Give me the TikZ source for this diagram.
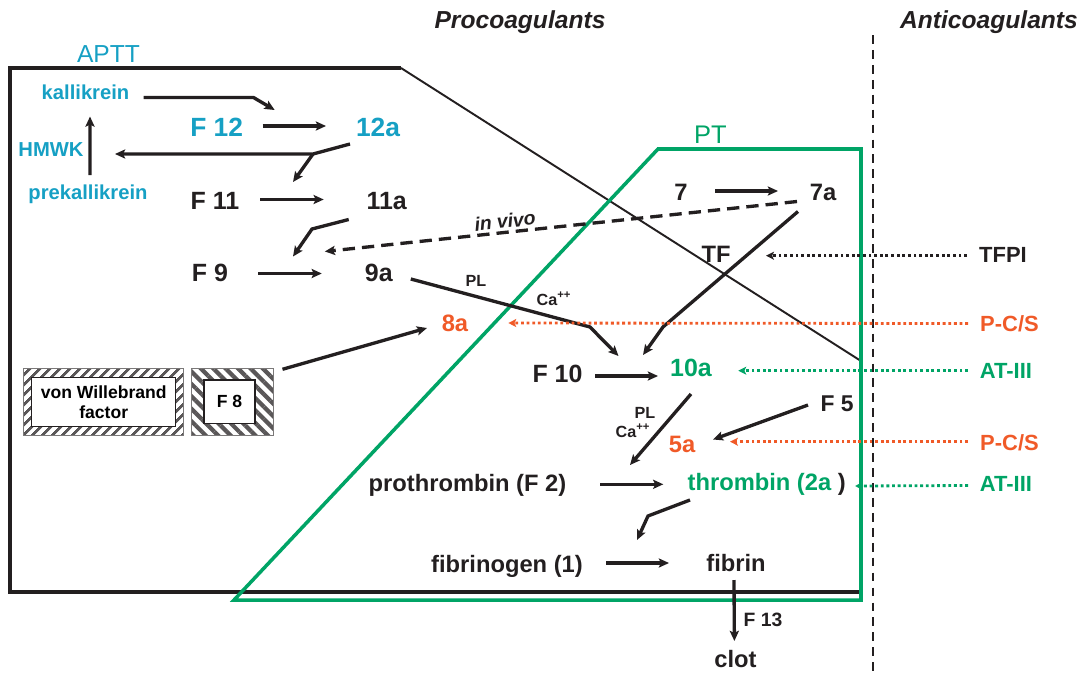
\documentclass[tikz,border=0pt]{standalone}
\usepackage{fontspec}
\setmainfont{Liberation Sans}
\usetikzlibrary{arrows.meta,calc,patterns.meta}
\definecolor{ink}{RGB}{35,31,32}
\definecolor{apttblue}{RGB}{22,160,196}
\definecolor{ptgreen}{RGB}{0,164,102}
\definecolor{pcsorange}{RGB}{240,90,40}
\tikzset{
	lbl/.style={inner sep=0pt,text=ink,font=\bfseries\fontsize{13.5}{15}\selectfont},
	big/.style={lbl,font=\bfseries\fontsize{14.2}{16}\selectfont},
	contact/.style={lbl,text=apttblue,font=\bfseries\fontsize{11.5}{13}\selectfont},
	antilbl/.style={lbl,font=\bfseries\fontsize{12.5}{14}\selectfont},
	tiny lbl/.style={lbl,font=\bfseries\fontsize{9.2}{10}\selectfont},
	head/.style={lbl,font=\bfseries\itshape\fontsize{14}{16}\selectfont},
	arr/.style={draw=ink,line width=1.9pt,-{Stealth[length=5.8pt,width=5.2pt,inset=1.2pt]}},
	inh/.style={line width=1.6pt,dash pattern=on 1.6pt off 1.6pt,-{Stealth[length=4.5pt,width=4.5pt,inset=1pt]}},
	hatch/.style n args={3}{draw=ink!60,line width=0.5pt,inner sep=0pt,pattern={Lines[angle=#1,distance=#2,line width=#3]},pattern color=ink!75},
	inbox/.style={draw=ink,fill=white,line width=0.8pt,inner sep=0pt,align=center,font=\bfseries\fontsize{10}{11.5}\selectfont}
}
\begin{document}
\begin{tikzpicture}[x=0.02cm,y=-0.02cm]
	\useasboundingbox (0,0) rectangle (1083,677);
	\draw[ink,line width=1.8pt] (861,592) -- (10,592) -- (10,68) -- (401,68);
	\draw[ink,line width=1.1pt] (401,68) -- (861,361);
	\draw[ptgreen,line width=2pt] (234,600) -- (658,149) -- (861,149) -- (861,600) -- cycle;
	\draw[ink,line width=1.4pt,dash pattern=on 5pt off 3.5pt] (873,35) -- (873,677);

	\node[head] (procoag) at (520,22) {Procoagulants};
	\node[head] (anticoag) at (989,22) {Anticoagulants};
	\node[inner sep=0pt,text=apttblue,font=\fontsize{14}{16}\selectfont] (aptt) at (108.5,54) {APTT};
	\node[inner sep=0pt,text=ptgreen,font=\fontsize{14.5}{16}\selectfont] (pt) at (710.5,135) {PT};

	\node[contact] (kal) at (85.5,92.5) {kallikrein};
	\node[contact] (hmwk) at (51,150) {HMWK};
	\node[contact] (prek) at (88,194.5) {prekallikrein};
	\node[contact,font=\bfseries\fontsize{15}{17}\selectfont] (f12) at (216.7,127) {F 12};
	\node[contact,font=\bfseries\fontsize{15}{17}\selectfont] (a12) at (378,127) {12a};
	\node[big] (f11) at (215,201) {F 11};
	\node[big] (a11) at (386.7,201) {11a};
	\node[big] (f9) at (210,272.5) {F 9};
	\node[big] (a9) at (378.8,272.5) {9a};
	\node[lbl] (s7) at (681,192.5) {7};
	\node[lbl] (a7) at (823,192.5) {7a};
	\node[lbl] (tf) at (716,254) {TF};
	\node[lbl,text=pcsorange] (a8) at (455,323) {8a};
	\node[big] (f10) at (557.5,374) {F 10};
	\node[big,text=ptgreen] (a10) at (691,368) {10a};
	\node[lbl,font=\bfseries\fontsize{13}{15}\selectfont] (f5) at (837,404) {F 5};
	\node[lbl,text=pcsorange] (a5) at (682,444) {5a};
	\node[lbl] (pro) at (467.5,485.5) {prothrombin (F 2)};
	\node[lbl,text=ptgreen] (thr) at (766.7,484) {thrombin (2a \textcolor{ink}{)}};
	\node[lbl] (fbg) at (507,566) {fibrinogen (1)};
	\node[lbl] (fib) at (736,563.5) {fibrin};
	\node[lbl] (clot) at (735.4,659) {clot};
	\node[lbl,font=\bfseries\fontsize{11}{13}\selectfont] (f13) at (763,620) {F 13};
	\node[tiny lbl] (pl1) at (476,281) {PL};
	\node[tiny lbl] (ca1) at (554,299) {Ca\textsuperscript{++}};
	\node[tiny lbl] (pl2) at (645,413) {PL};
	\node[tiny lbl] (ca2) at (633,431) {Ca\textsuperscript{++}};
	\node[lbl,font=\bfseries\itshape\fontsize{11}{13}\selectfont,rotate=6] (vivo) at (505,221) {in vivo};
	\node[antilbl] (tfpi) at (1003,255) {TFPI};
	\node[antilbl,text=pcsorange] (pcs1) at (1009.5,323.5) {P-C/S};
	\node[antilbl,text=ptgreen] (at1) at (1006,370.7) {AT-III};
	\node[antilbl,text=pcsorange] (pcs2) at (1009.5,443) {P-C/S};
	\node[antilbl,text=ptgreen] (at2) at (1006,484) {AT-III};

	\node[hatch={45}{4pt}{1.6pt},minimum width=3.2cm,minimum height=1.333cm] (vwfframe) at (103.3,401.7) {};
	\node[inbox,minimum width=2.88cm,minimum height=0.987cm] (vwf) at (103.7,402) {von Willebrand\\factor};
	\node[hatch={-45}{5pt}{2.4pt},minimum width=1.647cm,minimum height=1.333cm] (f8frame) at (232.2,401.7) {};
	\node[inbox,minimum width=1.02cm,minimum height=0.867cm] (f8) at (229.5,401.7) {F 8};

	\coordinate (k12) at (313,154);
	\coordinate (k11) at (312,229);
	\coordinate (k7) at (663,327);
	\coordinate (k9) at (590,327);
	\coordinate (k2) at (648,516);
	\draw[arr] ($(kal)+(58,5)$) -- ++(110,0) -- ($(f12)+(58,-17)$);
	\draw[arr] ($(f12)+(46,-1)$) -- ($(a12)+(-52,-1)$);
	\draw[arr] ($(a12)+(-28,17)$) -- (k12) -- ($(hmwk)+(64,4)$);
	\draw[arr] (k12) -- ($(f11)+(78,-19)$);
	\draw[arr] ($(prek)+(2,-19.5)$) -- ($(kal)+(4.5,24)$);
	\draw[arr] ($(f11)+(45,-1.5)$) -- ($(a11)+(-63,-1.5)$);
	\draw[arr] ($(a11)+(-38,18.5)$) -- (k11) -- ($(f9)+(83,-16)$);
	\draw[arr] ($(f9)+(48,1)$) -- ($(a9)+(-57,1)$);
	\draw[arr,dash pattern=on 7pt off 4pt] ($(a7)+(-26,9)$) -- ($(a9)+(-54,-21)$);
	\draw[arr] ($(s7)+(34,-1.5)$) -- ($(a7)+(-45,-1.5)$);
	\draw[arr] ($(a7)+(-25,19)$) -- (k7) -- ($(a10)+(-48,-13)$);
	\draw[arr] ($(a9)+(32,6.5)$) -- (k9) -- ($(f10)+(61,-18)$);
	\draw[arr] ($(f8frame.north east)+(7,3)$) -- ($(a8)+(-28,5)$);
	\draw[arr] ($(f10)+(37.5,2)$) -- ($(a10)+(-33,8)$);
	\draw[arr] ($(a10)+(0,26)$) -- ($(thr)+(-136.7,-19)$);
	\draw[arr] ($(f5)+(-29,1)$) -- ($(a5)+(31,-4.5)$);
	\draw[arr] ($(pro)+(132.5,-1.2)$) -- ($(thr)+(-103.4,0.3)$);
	\draw[arr] ($(thr)+(-76.7,16)$) -- (k2) -- ($(fbg)+(130,-26)$);
	\draw[arr] ($(fbg)+(99,-3)$) -- ($(fib)+(-67,-0.5)$);
	\draw[arr] ($(fib)+(-2,16.5)$) -- ($(clot)+(-1,-18)$);
	\draw[inh,ink] ($(tfpi)+(-36,0.7)$) -- ($(tf)+(50,1.7)$);
	\draw[inh,pcsorange] ($(pcs1)+(-41.5,0)$) -- ($(a8)+(53.3,0)$);
	\draw[inh,ptgreen] ($(at1)+(-38,0)$) -- ($(a10)+(47.3,2.7)$);
	\draw[inh,pcsorange] ($(pcs2)+(-41.5,-1.3)$) -- ($(a5)+(48,-2.3)$);
	\draw[inh,ptgreen] ($(at2)+(-38,1.5)$) -- ($(thr)+(88.3,2)$);
\end{tikzpicture}
\end{document}
